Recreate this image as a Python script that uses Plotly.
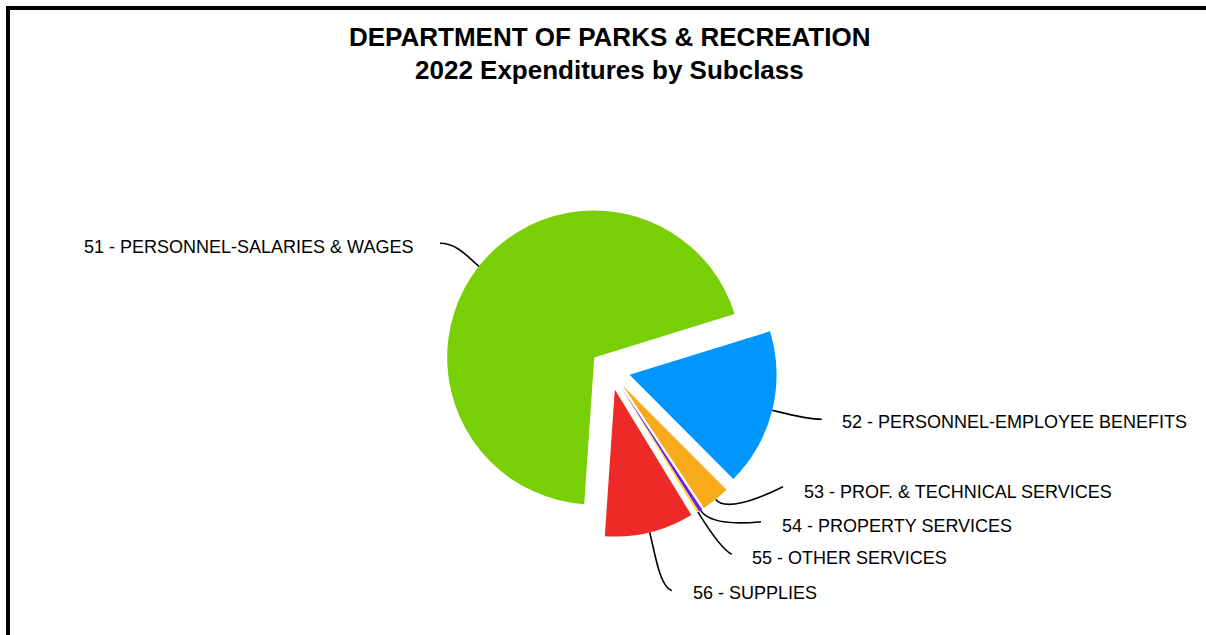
import numpy as np
import plotly.graph_objects as go

W, H = 1206, 635

# ---------------- data ----------------
labels = [
    "51 - PERSONNEL-SALARIES & WAGES",
    "52 - PERSONNEL-EMPLOYEE BENEFITS",
    "53 - PROF. & TECHNICAL SERVICES",
    "54 - PROPERTY SERVICES",
    "55 - OTHER SERVICES",
    "56 - SUPPLIES",
]
values = [69.1, 17.3, 3.15, 0.40, 0.20, 9.8]
colors = ["#79CF05", "#0096FF", "#F9AA1B", "#6A1CF2", "#FFD500", "#EE2A28"]

title_line1 = "DEPARTMENT OF PARKS & RECREATION"
title_line2 = "2022 Expenditures by Subclass"

# ---------------- layout constants (pixels) ----------------
CX, CY = 610, 370          # pie centre
RAD = 147                  # pie radius
PULL = 0.137               # explode fraction
ROT = -176.1               # start angle of first slice (clockwise from 12 o'clock)
FONT = "Liberation Sans, Arial, sans-serif"

label_pos = [(84, 247.5), (842, 421.5), (804, 491.5), (782, 526), (752, 557.5), (692.5, 593.3)]
line_end = [(440, 243.3), (821.7, 419.3), (783, 486.7), (761, 521.7), (731.7, 554.3), (671.7, 590.7)]
handle_start = [12, 15, 14, 14, 20, 25]
handle_end = [(18, 0), (-15, 0), (-30, 15), (-30, 3), (-10, -5), (-12, -5)]


def px(x):
    return x / W


def py(y):
    return 1 - y / H


ext = RAD * (1 + PULL)
fig = go.Figure(
    go.Pie(
        labels=labels,
        values=values,
        sort=False,
        direction="clockwise",
        rotation=ROT,
        pull=[PULL] * len(values),
        marker=dict(colors=colors, line=dict(width=0)),
        textinfo="none",
        hoverinfo="label+percent",
        showlegend=False,
        domain=dict(x=[px(CX - ext), px(CX + ext)], y=[py(CY + ext), py(CY - ext)]),
    )
)

# leader lines computed from slice geometry
total = float(sum(values))
cum = 0.0
shapes = []
annotations = []
for i, v in enumerate(values):
    span = 360.0 * v / total
    mid = np.radians(ROT + cum + span / 2)
    cum += span
    dx, dy = np.sin(mid), -np.cos(mid)
    sx, sy = CX + ext * dx, CY + ext * dy
    c1x, c1y = sx + handle_start[i] * dx, sy + handle_start[i] * dy
    ex, ey = line_end[i]
    c2x, c2y = ex + handle_end[i][0], ey + handle_end[i][1]
    path = (f"M {px(sx):.5f},{py(sy):.5f} C {px(c1x):.5f},{py(c1y):.5f} "
            f"{px(c2x):.5f},{py(c2y):.5f} {px(ex):.5f},{py(ey):.5f}")
    shapes.append(dict(type="path", path=path, xref="paper", yref="paper",
                       line=dict(color="black", width=1.6)))
    lx, ly = label_pos[i]
    annotations.append(dict(x=px(lx), y=py(ly), xref="paper", yref="paper",
                            text=labels[i], showarrow=False, xanchor="left",
                            yanchor="middle", borderpad=0, borderwidth=0,
                            font=dict(family=FONT, size=18, color="black")))

# titles
annotations.append(dict(x=px(609), y=py(37), xref="paper", yref="paper", text=f"<b>{title_line1}</b>",
                        showarrow=False, xanchor="center", yanchor="middle", borderpad=0, borderwidth=0,
                        font=dict(family=FONT, size=26, color="black")))
annotations.append(dict(x=px(609), y=py(69.5), xref="paper", yref="paper", text=f"<b>{title_line2}</b>",
                        showarrow=False, xanchor="center", yanchor="middle", borderpad=0, borderwidth=0,
                        font=dict(family=FONT, size=26, color="black")))

# frame (top and left)
shapes.append(dict(type="line", xref="paper", yref="paper", x0=px(6), x1=px(W + 5), y0=py(8), y1=py(8),
                   line=dict(color="black", width=4)))
shapes.append(dict(type="line", xref="paper", yref="paper", x0=px(8), x1=px(8), y0=py(6), y1=py(H + 5),
                   line=dict(color="black", width=4)))

fig.update_layout(
    width=W, height=H, autosize=False,
    margin=dict(l=0, r=0, t=0, b=0),
    paper_bgcolor="white", plot_bgcolor="white",
    font=dict(family=FONT, color="black"),
    shapes=shapes, annotations=annotations,
)

fig.write_html("out.html", config={"displayModeBar": False},
               post_script="document.body.style.margin='0';document.body.style.overflow='hidden';")
